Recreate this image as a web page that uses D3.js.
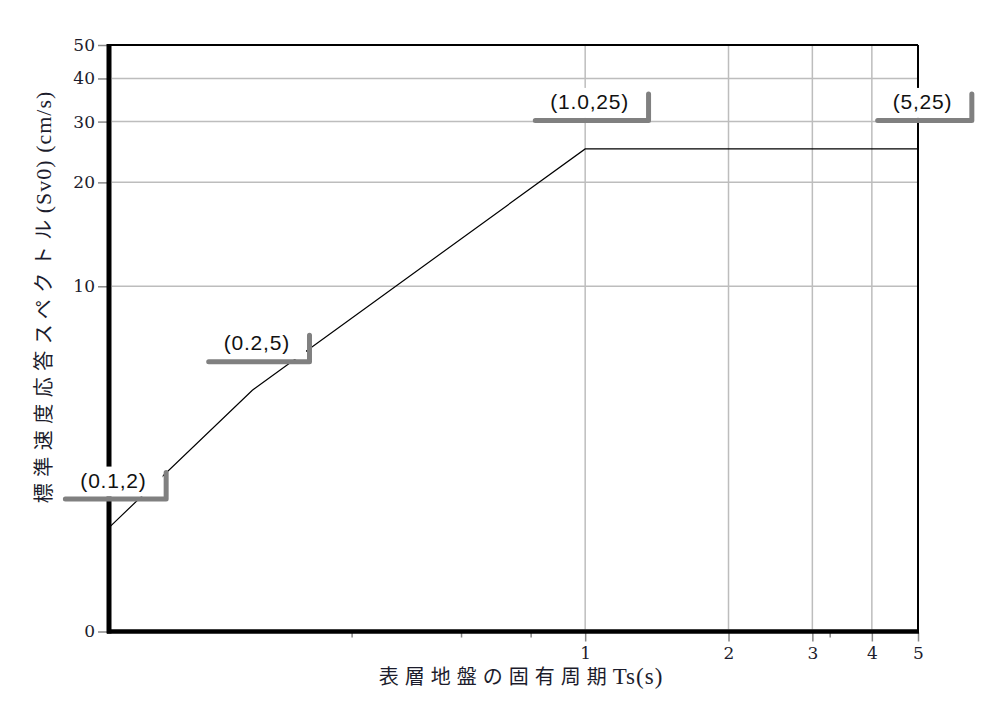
<!DOCTYPE html>
<html><head><meta charset="utf-8">
<script src="https://cdn.jsdelivr.net/npm/d3@7"></script>
<style>
html,body{margin:0;padding:0;background:#fff;}
svg{display:block;}
</style></head>
<body>
<svg id="chart" width="1000" height="702"></svg>
<script>
// ---- data ----
const periods = [0.1, 0.2, 1.0, 5];
const spectrum = [2, 5, 25, 25];
const pointLabels = ["(0.1,2)", "(0.2,5)", "(1.0,25)", "(5,25)"];
const yTickValues = [1, 10, 20, 30, 40, 50];
const yTickLabels = ["0", "10", "20", "30", "40", "50"];
const yGridValues = [10, 20, 30, 40];
const xTickValues = [1, 2, 3, 4, 5];
const xTickLabels = ["1", "2", "3", "4", "5"];
const xGridValues = [1, 2, 3, 4];
const xMinorTicks = [0.324, 0.55, 0.77, 3.27];
const xTitleParts = ["表層地盤の固有周期", "Ts(s)"];
const yTitleParts = ["標準速度応答スペクトル", "(Sv0) (cm/s)"];

const svg = d3.select("#chart");
const L = 109, R = 918, T = 45, B = 631.5;
const x = d3.scaleLog().domain([0.1, 5]).range([L, R]);
const y = d3.scaleLog().domain([1, 50]).range([B, T]);

const serif = "DejaVu Serif, Liberation Serif, serif";
const latinSerif = "Liberation Serif, DejaVu Serif, serif";
const cjk = "Noto Sans CJK JP, sans-serif";
const txtColor = "#1c1c2c";

// grid
svg.append("g").selectAll("line").data(yGridValues).join("line")
  .attr("x1", L + 3).attr("x2", R).attr("y1", d => y(d)).attr("y2", d => y(d))
  .attr("stroke", "#bdbdbd").attr("stroke-width", 1.5);
svg.append("g").selectAll("line").data(xGridValues).join("line")
  .attr("x1", d => x(d)).attr("x2", d => x(d)).attr("y1", T).attr("y2", B - 2)
  .attr("stroke", "#bdbdbd").attr("stroke-width", 1.5);

// data line
const line = d3.line().x((d, i) => x(periods[i])).y(d => y(d));
svg.append("path").datum(spectrum).attr("d", line)
  .attr("fill", "none").attr("stroke", "#000").attr("stroke-width", 1.2);

// frame top & right
svg.append("line").attr("x1", L).attr("x2", R).attr("y1", T).attr("y2", T)
  .attr("stroke", "#000").attr("stroke-width", 2);
svg.append("line").attr("x1", R).attr("x2", R).attr("y1", T).attr("y2", B)
  .attr("stroke", "#000").attr("stroke-width", 2);

// y axis ticks & labels
const yAxis = d3.axisLeft(y).tickValues(yTickValues)
  .tickFormat((d, i) => yTickLabels[i]).tickSize(9).tickPadding(3);
const gy = svg.append("g").attr("transform", `translate(${L - 2},0)`).call(yAxis);
gy.attr("font-family", null).attr("font-size", null);
gy.select(".domain").remove();
gy.selectAll(".tick line").attr("stroke", "#888").attr("stroke-width", 1.5);
gy.selectAll(".tick text").style("font-family", serif).style("font-size", "17px")
  .attr("fill", txtColor);

// x axis ticks & labels
const xAxis = d3.axisBottom(x).tickValues(xTickValues)
  .tickFormat((d, i) => xTickLabels[i]).tickSize(9).tickPadding(5);
const gx = svg.append("g").attr("transform", `translate(0,${B + 1})`).call(xAxis);
gx.attr("font-family", null).attr("font-size", null);
gx.select(".domain").remove();
gx.selectAll(".tick line").attr("stroke", "#888").attr("stroke-width", 1.5);
gx.selectAll(".tick text").style("font-family", serif).style("font-size", "17px")
  .attr("fill", txtColor);
svg.append("g").selectAll("line").data(xMinorTicks).join("line")
  .attr("x1", d => x(d)).attr("x2", d => x(d)).attr("y1", B + 1).attr("y2", B + 6)
  .attr("stroke", "#888").attr("stroke-width", 1.5);

// thick axis lines
svg.append("line").attr("x1", L).attr("x2", L).attr("y1", T - 1).attr("y2", B + 2)
  .attr("stroke", "#000").attr("stroke-width", 5);
svg.append("line").attr("x1", L - 2).attr("x2", R + 1).attr("y1", B).attr("y2", B)
  .attr("stroke", "#000").attr("stroke-width", 4.5);

// callouts
const ann = svg.append("g");
periods.forEach((p, i) => {
  const cx = x(p) + 4.5;
  const bottom = y(spectrum[i]) - 31;
  const g = ann.append("g");
  const rect = g.append("rect");
  const shadow = g.append("path");
  const t = g.append("text").text(pointLabels[i])
    .attr("x", cx).attr("y", bottom - 9)
    .attr("text-anchor", "middle")
    .style("font-family", "Liberation Sans, Arial, sans-serif")
    .style("font-size", "21px").style("letter-spacing", "0.8px")
    .attr("fill", "#111");
  const w = t.node().getComputedTextLength() + 32;
  const left = cx - w / 2, right = cx + w / 2, top = bottom - 30;
  rect.attr("x", left).attr("y", top).attr("width", w).attr("height", 30)
    .attr("fill", "#fff");
  shadow.attr("d", `M${left + 1},${bottom + 2.5}H${right + 3.5}V${top + 6}`)
    .attr("fill", "none").attr("stroke", "#808080").attr("stroke-width", 5)
    .attr("stroke-linejoin", "round").attr("stroke-linecap", "round");
});

// axis titles
const xt = svg.append("text")
  .attr("x", 521).attr("y", 684).attr("text-anchor", "middle")
  .attr("fill", txtColor);
xt.append("tspan").text(xTitleParts[0])
  .style("font-family", cjk).style("font-size", "20px").style("letter-spacing", "6px");
xt.append("tspan").text(xTitleParts[1])
  .style("font-family", latinSerif).style("font-size", "23px").style("letter-spacing", "1px");

const yt = svg.append("text")
  .attr("transform", "translate(51,297) rotate(-90)")
  .attr("text-anchor", "middle")
  .attr("fill", txtColor);
yt.append("tspan").text(yTitleParts[0])
  .style("font-family", cjk).style("font-size", "20px").style("letter-spacing", "6.5px");
yt.append("tspan").text(yTitleParts[1])
  .style("font-family", latinSerif).style("font-size", "22px").style("letter-spacing", "1px");
</script>
</body></html>
